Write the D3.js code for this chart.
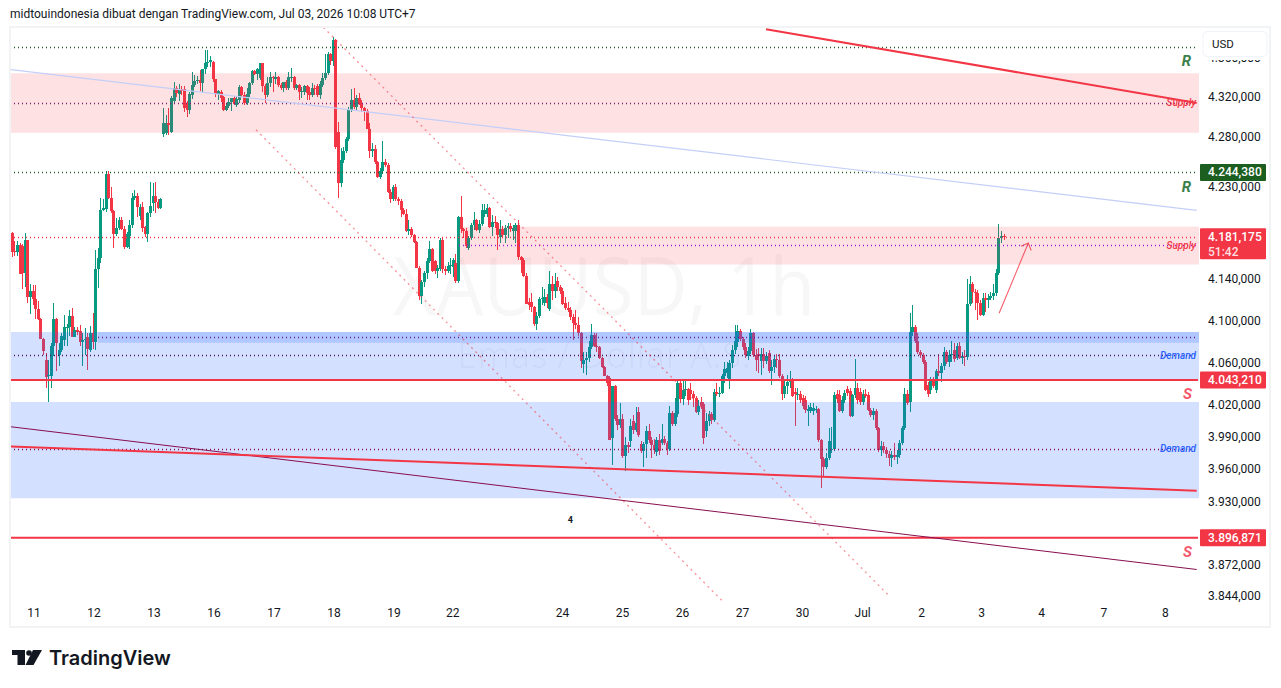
<!DOCTYPE html>
<html>
<head>
<meta charset="utf-8">
<title>XAUUSD 1h</title>
<script src="https://cdn.jsdelivr.net/npm/d3@7/dist/d3.min.js"></script>
<style>
html,body{margin:0;padding:0;background:#fff;overflow:hidden}
svg{display:block;font-family:Roboto,"Open Sans",sans-serif}
</style>
</head>
<body>
<svg id="chart" width="1281" height="688"></svg>
<script>
// Hourly candles as [open, high, low, close], one list per stretch of the move
const earlyRally = [
[4185,4186,4161,4166],[4167,4177,4162,4166],[4166,4177,4162,4173],[4173,4175,4145,4145],[4172,4174,4130,4146],
[4146,4185,4132,4178],[4178,4178,4117,4123],[4123,4135,4106,4128],[4128,4134,4115,4121],[4121,4134,4101,4111],
[4111,4119,4100,4101],[4101,4102,4082,4082],[4082,4083,4067,4071],[4062,4069,4036,4046],[4047,4062,4023,4048],
[4047,4078,4036,4076],[4076,4117,4066,4101],[4101,4102,4052,4078],[4067,4078,4057,4072],[4072,4088,4070,4085],
[4081,4105,4076,4094],[4094,4097,4076,4094],[4094,4110,4085,4104],[4104,4112,4084,4084],[4084,4094,4084,4091],
[4091,4094,4086,4089],[4090,4096,4076,4079],[4079,4088,4057,4081],[4081,4093,4067,4082],[4084,4088,4053,4073],
[4072,4095,4070,4088],[4088,4107,4073,4079],[4079,4168,4072,4150],[4150,4170,4131,4160],[4160,4219,4155,4207],
[4207,4218,4206,4209],[4208,4246,4205,4243],[4243,4246,4218,4219],[4219,4230,4204,4206],[4206,4207,4170,4184],
[4184,4199,4182,4190],[4190,4200,4188,4197],[4197,4200,4188,4189],[4189,4192,4169,4171],[4171,4186,4170,4184],
[4182,4197,4169,4193],[4193,4224,4190,4219],[4219,4227,4217,4221],[4221,4224,4200,4210],[4201,4213,4197,4210],
[4210,4215,4186,4190],[4191,4192,4181,4184],[4184,4205,4176,4204],[4204,4235,4200,4211],
[4214,4234,4206,4221],[4221,4235,4204,4215],[4215,4218,4208,4209],[4209,4219,4208,4218]
];
const firstPeak = [
[4283,4309,4280,4294],[4284,4302,4282,4294],[4294,4309,4282,4292],[4285,4321,4284,4319],[4316,4335,4314,4329],
[4329,4331,4320,4324],[4323,4333,4316,4328],[4328,4331,4322,4326],[4328,4331,4305,4309],[4313,4316,4300,4307],
[4307,4325,4303,4323],[4322,4345,4318,4332],[4332,4342,4330,4336],[4336,4341,4333,4337],[4337,4347,4326,4334],
[4334,4348,4325,4348],[4348,4368,4343,4355],[4354,4368,4350,4356],[4356,4362,4350,4358],[4356,4357,4335,4338],
[4338,4338,4320,4323],[4323,4327,4317,4326],[4325,4327,4315,4319],[4320,4321,4306,4307],[4307,4314,4306,4311],
[4311,4319,4309,4315],[4315,4319,4306,4319],[4319,4321,4312,4313],[4312,4320,4310,4318],[4317,4332,4314,4330],
[4330,4331,4320,4322],[4322,4325,4312,4314],[4314,4329,4312,4323],[4323,4335,4320,4334],[4334,4347,4332,4346],
[4346,4347,4342,4343],[4343,4349,4337,4348],[4339,4355,4337,4354],[4354,4355,4325,4331],[4331,4333,4314,4322],
[4322,4340,4320,4334],[4334,4345,4330,4340],[4340,4341,4325,4339],[4338,4345,4333,4340],[4340,4341,4330,4332],
[4332,4334,4327,4329],[4329,4335,4325,4335],[4335,4337,4327,4329],[4329,4345,4327,4340],[4340,4349,4335,4340],
[4340,4341,4327,4329],[4329,4333,4327,4332],[4332,4333,4317,4325],[4325,4330,4319,4326],[4325,4332,4322,4331],
[4331,4332,4317,4324],[4325,4330,4317,4322],[4322,4334,4320,4329],[4329,4332,4322,4328],[4331,4333,4320,4322],
[4322,4336,4318,4333],[4332,4344,4330,4339],[4339,4364,4337,4344],[4344,4366,4342,4364],[4364,4365,4352,4357],
[4357,4381,4351,4378]
];
const mainSlide = [
[4378,4379,4268,4270],[4285,4295,4219,4234],[4234,4269,4230,4257],[4257,4270,4254,4266],[4266,4280,4264,4278],
[4278,4310,4276,4307],[4307,4328,4305,4317],[4317,4329,4308,4310],[4310,4322,4307,4319],[4319,4324,4312,4314],
[4314,4317,4305,4309],[4309,4310,4296,4306],[4306,4308,4288,4288],[4288,4294,4259,4266],[4266,4274,4260,4268],
[4268,4272,4253,4255],[4255,4256,4239,4240],[4240,4249,4238,4246],[4246,4276,4243,4255],[4255,4258,4250,4252],
[4252,4254,4224,4225],[4225,4228,4214,4218],[4218,4232,4216,4230],[4230,4233,4216,4218],[4218,4220,4212,4216],
[4216,4218,4200,4207],[4207,4209,4202,4203],[4203,4208,4186,4187],[4187,4197,4183,4189],[4189,4191,4181,4183],
[4183,4184,4175,4176],[4176,4177,4151,4151],[4151,4153,4120,4124],[4124,4139,4116,4137],[4137,4148,4132,4146],
[4146,4160,4140,4157],[4157,4177,4155,4169],[4169,4170,4147,4148],[4157,4158,4145,4148],[4148,4154,4141,4151],
[4150,4180,4148,4178],[4178,4181,4146,4150],[4150,4153,4144,4148],[4148,4156,4146,4153],[4153,4160,4145,4154],
[4152,4160,4142,4158],[4155,4164,4136,4138],[4138,4201,4136,4200],[4200,4221,4185,4189],[4189,4190,4180,4187],
[4187,4190,4170,4172],[4170,4182,4168,4180],[4180,4195,4178,4193],[4193,4205,4188,4197],[4197,4198,4187,4188],
[4188,4197,4185,4194],[4194,4213,4192,4207],[4203,4213,4200,4207],[4203,4213,4200,4209],[4209,4210,4190,4191],
[4191,4202,4182,4196],[4196,4201,4190,4195],[4195,4196,4168,4183],[4181,4197,4175,4189],[4189,4192,4180,4183],
[4183,4193,4175,4190],[4190,4195,4180,4192],[4192,4195,4186,4189],[4187,4193,4178,4190],
[4187,4195,4175,4193],[4193,4197,4158,4161],[4161,4162,4146,4158],[4158,4160,4142,4143],[4143,4146,4116,4116],
[4118,4122,4110,4115],[4118,4126,4108,4113],[4113,4114,4095,4097],[4097,4108,4091,4104],[4104,4123,4102,4121],
[4121,4132,4115,4122],[4117,4130,4114,4123],[4123,4125,4112,4117],[4111,4148,4109,4135],[4135,4143,4120,4128],
[4128,4146,4122,4135],[4138,4142,4128,4132],[4132,4134,4125,4128],[4128,4131,4115,4116],[4117,4123,4110,4112],
[4112,4118,4108,4110],[4110,4113,4100,4103],[4103,4106,4081,4098],[4098,4110,4092,4096],[4096,4103,4085,4088],
[4088,4089,4055,4061],[4058,4070,4050,4062],[4062,4070,4048,4064],[4064,4080,4060,4075],[4075,4097,4073,4086],
[4086,4088,4075,4076],[4076,4088,4070,4075],[4075,4076,4063,4064],[4064,4065,4055,4056],[4056,4057,4047,4047],
[4047,4048,4038,4040]
];
const midRange = [
[4045,4047,3987,3987],[3989,4038,3964,4038],[4038,4039,4005,4007],[4007,4010,3996,4001],[4001,4022,3998,4007],
[4007,4011,3970,3972],[3972,3990,3958,3982],[3982,3985,3975,3980],[3986,4007,3980,4000],[4005,4010,3993,3996],
[3996,4018,3994,4003],[4013,4018,3990,3992],[3983,3986,3975,3977],[3977,3985,3962,3983],[3983,4000,3970,3995],
[3995,4002,3984,3987],[3987,3990,3970,3982],[3982,3988,3974,3978],[3976,3990,3972,3987],[3987,3993,3973,3977],[3984,4002,3982,3988],
[3988,3991,3982,3984],[3984,3986,3973,3979],[3979,4019,3977,4012],[4012,4014,4000,4002],[4002,4026,4000,4012],
[4011,4042,4008,4040],[4040,4043,4022,4025],[4025,4042,4020,4034],[4034,4043,4028,4035],[4035,4036,4020,4024],
[4034,4040,4024,4030],[4030,4033,4018,4026],[4026,4028,4012,4013],[4013,4024,4010,4019],[4023,4027,4016,4019],
[4021,4023,3983,3989],[3995,4012,3990,4005],[4005,4014,4000,4011],[4011,4013,4002,4006],[4006,4035,4004,4032],
[4032,4040,4028,4030],[4030,4037,4027,4031],[4031,4049,4030,4047],[4047,4060,4040,4054],[4050,4060,4045,4055],
[4044,4062,4035,4059],[4059,4077,4055,4072],[4072,4096,4068,4080],[4079,4096,4075,4090],[4090,4092,4080,4082],
[4082,4084,4072,4075],[4075,4078,4064,4067],[4066,4075,4062,4071],[4071,4092,4068,4088],[4088,4089,4065,4067],
[4067,4073,4052,4062],[4068,4074,4050,4066],[4061,4074,4048,4068],[4068,4074,4055,4061],[4061,4070,4058,4066],
[4069,4072,4050,4052],[4052,4062,4039,4056],[4056,4066,4050,4063],[4063,4068,4055,4062],[4062,4068,4045,4047],
[4047,4049,4024,4030],[4030,4044,4026,4038],[4038,4048,4030,4041],[4041,4052,4036,4043],[4043,4045,4027,4028],
[4032,4036,4000,4030],[4029,4036,4024,4030],[4030,4033,4022,4024],[4026,4029,4016,4019],[4024,4028,4012,4015],
[4014,4020,4000,4016],[4014,4022,4012,4018],[4014,4022,4010,4017],[4015,4019,4012,4016],[4016,4017,3985,3987],
[3987,3988,3942,3969],[3969,3971,3953,3962],[3962,3975,3960,3970],[3970,3998,3968,3986],[3978,3999,3975,3979],
[3979,4032,3977,4029],[4030,4034,4022,4025],[4029,4034,4013,4014],[4014,4028,4012,4024],[4024,4034,4022,4031],
[4035,4038,4028,4031],[4033,4036,4008,4009],[4009,4030,4008,4029],[4029,4063,4026,4036],[4036,4040,4021,4024],
[4032,4036,4020,4023],[4023,4034,4020,4030],[4030,4035,4026,4028],[4029,4032,4014,4015],[4015,4017,4008,4010],
[4010,4017,4006,4014],[4014,4016,3996,3998],[3998,3999,3976,3978],[3978,3986,3972,3981],[3981,3985,3975,3978],
[3978,3980,3970,3974],[3974,3977,3963,3970],[3970,3977,3962,3973],[3973,3984,3968,3971],[3971,3978,3965,3973]
];
const finalPush = [
[3973,3987,3970,3984],[3984,4000,3982,3998],[3998,4036,3996,4030],[4030,4034,4020,4022],[4023,4107,4013,4089],
[4089,4115,4085,4094],[4094,4096,4078,4080],[4080,4088,4068,4070],[4070,4072,4064,4067],[4067,4069,4058,4060],
[4060,4062,4033,4034],[4039,4041,4027,4030],[4034,4046,4030,4044],[4044,4046,4036,4038],[4034,4054,4031,4052],
[4052,4068,4047,4050],[4050,4059,4041,4057],[4057,4075,4053,4070],[4070,4072,4058,4060],[4060,4072,4056,4067],
[4067,4080,4060,4068],[4072,4078,4060,4063],[4064,4078,4062,4076],[4076,4079,4063,4064],[4064,4070,4058,4066],
[4066,4072,4057,4065],[4065,4140,4062,4116],[4116,4143,4114,4135],[4135,4137,4117,4127],[4127,4130,4110,4126],
[4126,4129,4100,4117],[4117,4120,4104,4105],[4105,4126,4104,4122],[4122,4126,4108,4120],[4120,4125,4112,4122],
[4122,4127,4120,4124],[4124,4135,4120,4126],[4126,4150,4124,4146],[4146,4194,4144,4180],[4180,4187,4175,4182],
[4182,4184,4178,4181.175]
];

// Time axis: bar numbers where each session label sits
const dayBars   = [8.5,31.5,54.5,77.5,100.5,123.5,146.5,169,211,234,257,280,303,326,348.6,371.6,394.6,418.4,442];
const dayLabels = ["11","12","13","16","17","18","19","22","24","25","26","27","30","Jul","2","3","4","7","8"];

// Price axis
const priceTicks = [4360,4320,4280,4230,4140,4100,4060,4020,3990,3960,3930,3900,3872,3844];

// Horizontal price levels
const resistanceHigh = 4370.6;
const resistanceLevel = 4244.38;
const lastPrice = 4181.175;
const supportLevel = 4043.21;
const lowerSupport = 3896.871;
const supplyMidHigh = 4314;
const supplyMidLow = 4173;
const demandMidHigh = 4084.4;
const demandMid = 4067;
const demandMidLow = 3979;

// Zones as [first bar, last bar, upper price, lower price]
const supplyZones = [[-2,456,4344,4284],[171.5,456,4191,4154]];
const demandZones = [[-2,456,4089,4042.5],[33,456,4089,4078.7],[-2,456,4022.6,3933]];

// Trend lines as [bar, price, bar, price]
const fallingResistance = [289,4389,454,4314];
const mildSupport = [-1,3981,454,3940];
const blueTrend = [-1,4348,454,4207];
const purpleTrend = [-1,3999.5,454,3868];
const channelUpper = [119.4,4391,336.7,3843];
const channelLower = [93.6,4287,272.1,3840];
const projection = [378.3,4107,389.5,4175];

const candles = [...earlyRally, ...firstPeak, ...mainSlide, ...midRange, ...finalPush];

const UP = "#089981", DOWN = "#f23645", INK = "#131722";
const paneLeft = 11, paneRight = 1198, paneTop = 28, paneBottom = 605;

const svg = d3.select("#chart");
const x = d3.scaleLinear().domain([0, 454]).range([11.7, 1196.7]);
// Logarithmic price scale: 4320 sits at y=97 and 3844 at y=596
const y = d3.scaleLog().domain([4320, 3844]).range([97, 596.1]);

svg.append("defs").append("clipPath").attr("id", "pane")
  .append("rect").attr("x", paneLeft).attr("y", paneTop).attr("width", paneRight - paneLeft + 1).attr("height", paneBottom - paneTop + 20);

// Frame around the chart
svg.append("rect").attr("x", 10).attr("y", 27).attr("width", 1260).attr("height", 600)
  .attr("fill", "#fff").attr("stroke", "#f2f3f5").attr("stroke-width", 2);

svg.append("text").attr("x", 10).attr("y", 18)
  .attr("font-size", 12).attr("fill", INK)
  .text("midtouindonesia dibuat dengan TradingView.com, Jul 03, 2026 10:08 UTC+7");

const pane = svg.append("g").attr("clip-path", "url(#pane)");

// Symbol watermark
pane.append("text").attr("x", 393).attr("y", 315)
  .attr("font-size", 81).attr("font-family", "'Open Sans',sans-serif").attr("fill", "#131722").attr("fill-opacity", 0.035)
  .attr("textLength", 422).attr("lengthAdjust", "spacingAndGlyphs")
  .text("XAUUSD, 1h");
pane.append("text").attr("x", 604).attr("y", 368).attr("text-anchor", "middle")
  .attr("font-size", 36).attr("font-family", "'Open Sans',sans-serif").attr("fill", "#131722").attr("fill-opacity", 0.03)
  .text("Emas / Dollar A.S.");

// Candles: one wick and one body for each bar
const bars = pane.append("g").selectAll("g").data(candles).join("g")
  .attr("fill", d => d[3] >= d[0] ? UP : DOWN)
  .attr("stroke", d => d[3] >= d[0] ? UP : DOWN);
bars.append("line")
  .attr("x1", (d, i) => Math.round(x(i)) + 0.5).attr("x2", (d, i) => Math.round(x(i)) + 0.5)
  .attr("y1", d => Math.round(y(d[1]))).attr("y2", d => Math.round(y(d[2])));
bars.append("rect").attr("stroke", "none")
  .attr("x", (d, i) => Math.round(x(i)) - 1).attr("width", 3)
  .attr("y", d => Math.round(y(Math.max(d[0], d[3]))))
  .attr("height", d => Math.max(1, Math.round(y(Math.min(d[0], d[3]))) - Math.round(y(Math.max(d[0], d[3])))));

// Zones are laid over the candles and tint them
function zones(list, colour, alpha) {
  pane.append("g").selectAll("rect").data(list).join("rect")
    .attr("x", d => x(d[0])).attr("width", d => x(d[1]) - x(d[0]))
    .attr("y", d => y(d[2])).attr("height", d => y(d[3]) - y(d[2]))
    .attr("fill", colour).attr("fill-opacity", alpha);
}
zones(supplyZones, "#f23645", 0.15);
zones(demandZones, "#2962ff", 0.2);

// Dotted horizontal levels, snapped to whole pixels so each dot stays sharp
function level(price, colour, fromBar) {
  pane.append("line")
    .attr("x1", Math.round(x(fromBar))).attr("x2", paneRight)
    .attr("y1", Math.round(y(price)) + 0.5).attr("y2", Math.round(y(price)) + 0.5)
    .attr("stroke", colour).attr("stroke-width", 1.3).attr("stroke-dasharray", "1 3");
}
level(resistanceHigh, "#1b5e20", -2);
level(resistanceLevel, "#1b5e20", -2);
level(supplyMidHigh, "#7b1f74", -2);
level(lastPrice, "#f23645", -2);
level(supplyMidLow, "#a31fd6", 171.5);
level(demandMidHigh, "#6a1b9a", 33);
level(demandMid, "#4a1460", -0.5);
level(demandMidLow, "#880e4f", -2);

// Solid support lines
[supportLevel, lowerSupport].forEach(p => {
  pane.append("line").attr("x1", paneLeft).attr("x2", paneRight)
    .attr("y1", y(p)).attr("y2", y(p))
    .attr("stroke", "#f23645").attr("stroke-width", 2);
});

// Trend lines
function trend(t, colour, width, extra) {
  const l = pane.append("line")
    .attr("x1", x(t[0])).attr("y1", y(t[1])).attr("x2", x(t[2])).attr("y2", y(t[3]))
    .attr("stroke", colour).attr("stroke-width", width);
  if (extra) extra(l);
  return l;
}
trend(blueTrend, "#c3cff8", 1.2);
trend(purpleTrend, "#880e4f", 1);
trend(mildSupport, "#f23645", 2);
trend(fallingResistance, "#f23645", 2);
const dots = l => l.attr("stroke-dasharray", "2 4").attr("stroke-opacity", 0.55);
trend(channelUpper, "#f23645", 1.3, dots);
trend(channelLower, "#f23645", 1.3, dots);

// Projected move, an open-headed arrow
const ax0 = x(projection[0]), ay0 = y(projection[1]), ax1 = x(projection[2]), ay1 = y(projection[3]);
const ang = Math.atan2(ay0 - ay1, ax0 - ax1);
const arrow = d3.path();
arrow.moveTo(ax0, ay0); arrow.lineTo(ax1, ay1);
arrow.moveTo(ax1 + 8 * Math.cos(ang + 0.75), ay1 + 8 * Math.sin(ang + 0.75));
arrow.lineTo(ax1, ay1);
arrow.lineTo(ax1 + 8 * Math.cos(ang - 0.75), ay1 + 8 * Math.sin(ang - 0.75));
pane.append("path").attr("d", arrow.toString()).attr("fill", "none")
  .attr("stroke", "#f23645").attr("stroke-opacity", 0.8).attr("stroke-width", 1.1);

// Drawing labels
const notes = pane.append("g").attr("font-style", "italic");
function note(txt, xPos, price, size, colour, weight) {
  notes.append("text").attr("x", xPos).attr("y", y(price)).attr("dy", "0.35em")
    .attr("text-anchor", "end").attr("font-size", size).attr("fill", colour)
    .attr("font-weight", weight || 400).text(txt);
}
note("Supply", 1196, supplyMidHigh, 10, "#f23645", 500);
note("Supply", 1196, supplyMidLow, 10, "#f23645", 500);
note("Demand", 1196, demandMid, 10, "#2962ff", 500);
note("Demand", 1196, demandMidLow, 10, "#2962ff", 500);
note("R", 1191, 4357, 15, "#3d7f4a", 700);
note("R", 1191, 4230, 15, "#3d7f4a", 700);
note("S", 1192, 4030, 15, "#f4566a", 700);
note("S", 1192, 3884.5, 15, "#f4566a", 700);
pane.append("text").attr("x", x(214)).attr("y", y(3913)).attr("dy", "0.35em").attr("text-anchor", "middle")
  .attr("font-size", 9).attr("font-weight", 700).attr("fill", INK).text("4");

// Price axis
const fmt = d3.formatLocale({decimal: ",", thousands: ".", grouping: [3], currency: ["", ""]}).format(",.3f");
const yAxis = svg.append("g").attr("transform", "translate(1208,0)")
  .call(d3.axisRight(y).tickValues(priceTicks).tickFormat(fmt).tickSize(0).tickPadding(0));
yAxis.select(".domain").remove();
yAxis.selectAll("text").attr("font-size", 12).attr("font-family", "Roboto,sans-serif").attr("fill", INK);

// Time axis
const xAxis = svg.append("g").attr("transform", "translate(0,608)")
  .call(d3.axisBottom(x).offset(0).tickValues(dayBars).tickFormat((d, i) => dayLabels[i]).tickSize(0).tickPadding(0));
xAxis.select(".domain").remove();
xAxis.selectAll("text").attr("font-size", 12).attr("font-family", "Roboto,sans-serif").attr("fill", INK);

// Level tags on the price axis
const tags = svg.append("g");
function tag(price, colour, lines) {
  const h = lines.length === 2 ? 31 : 17;
  const top0 = y(price) - 8.5;
  tags.append("rect").attr("x", 1200).attr("y", top0).attr("width", 66).attr("height", h).attr("rx", 1).attr("fill", colour);
  lines.forEach((t, i) => tags.append("text").attr("x", 1208).attr("y", top0 + 12.5 + i * 15)
    .attr("font-size", 12).attr("font-weight", 500).attr("fill", "#fff").attr("fill-opacity", i ? 0.85 : 1).text(t));
}
tag(resistanceLevel, "#1b5e20", [fmt(resistanceLevel)]);
tag(lastPrice, "#f23645", [fmt(lastPrice), "51:42"]);
tag(supportLevel, "#f23645", [fmt(supportLevel)]);
tag(lowerSupport, "#f23645", [fmt(lowerSupport)]);

// Currency button, with its clear margin over the axis
svg.append("rect").attr("x", 1200).attr("y", 29).attr("width", 69).attr("height", 31).attr("fill", "#fff");
svg.append("rect").attr("x", 1203).attr("y", 31.5).attr("width", 64).attr("height", 25).attr("rx", 4)
  .attr("fill", "#fff").attr("stroke", "#f0f3fa");
svg.append("text").attr("x", 1212).attr("y", 48).attr("font-size", 11.5).attr("fill", INK).text("USD");

// Brand mark and wordmark
const logo = svg.append("g").attr("transform", "translate(12,650)").attr("fill", "#131722");
logo.append("path").attr("d", "M0 0H13V15H5.5V5H0Z");
logo.append("circle").attr("cx", 17).attr("cy", 3).attr("r", 2.8);
logo.append("path").attr("d", "M21 0H30L21.5 15H13.5Z");
svg.append("text").attr("x", 49).attr("y", 665).attr("font-size", 20)
  .attr("font-family", "Inter,sans-serif").attr("font-weight", 600).attr("fill", "#131722").text("TradingView");
</script>
</body>
</html>
